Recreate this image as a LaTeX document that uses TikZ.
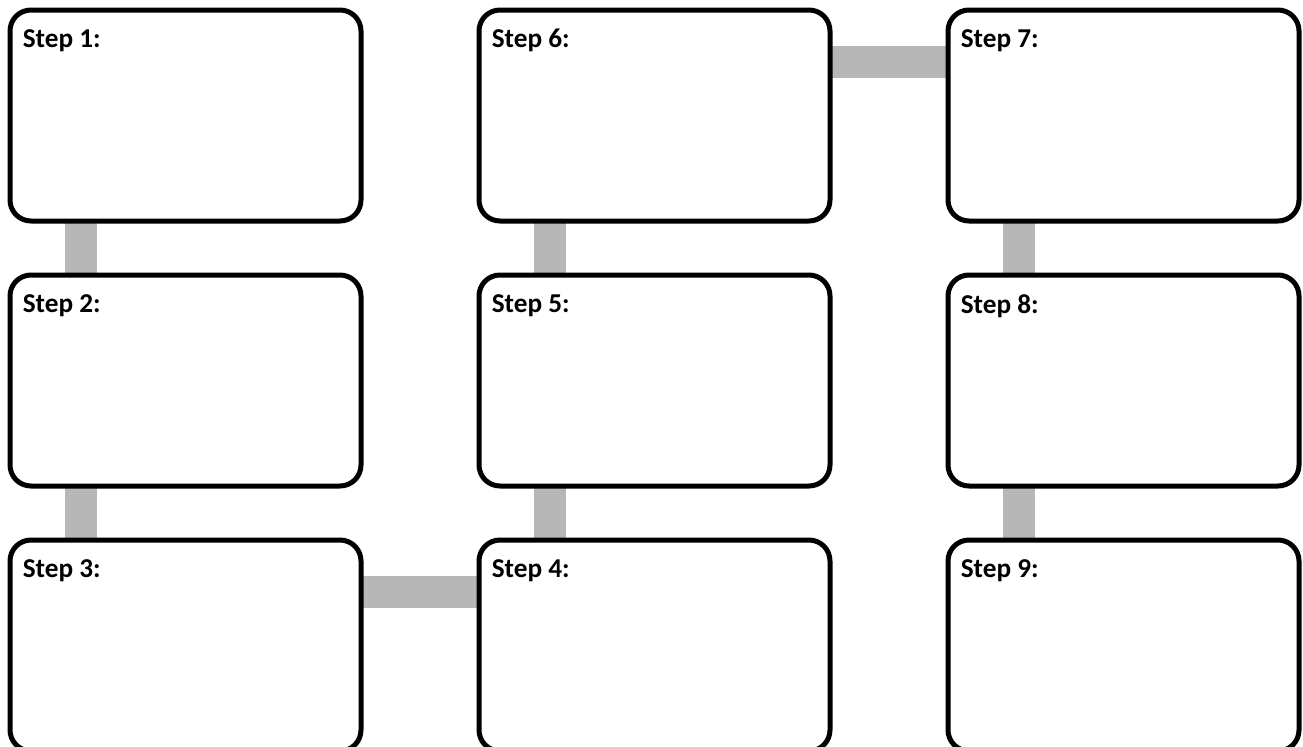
\documentclass[tikz,border=0pt]{standalone}
\usepackage{fontspec}
\setmainfont{Carlito}
\usetikzlibrary{positioning,backgrounds}
\definecolor{bargray}{HTML}{B7B7B7}

\begin{document}
\begin{tikzpicture}[
  box/.style={draw, line width=0.1cm, rounded corners=0.42cm, fill=white, outer sep=0pt,
    minimum width=7.02cm, minimum height=4.22cm},
  lbl/.style={anchor=north west, inner sep=0pt, font=\fontsize{15.5pt}{18pt}\selectfont\bfseries},
  bar/.style={draw=bargray, line width=0.64cm}
]
\useasboundingbox (0,0) rectangle (26.06,-14.92);
% boxes, in snake order
\node[box] (s1) at (3.71,-2.31) {};
\node[box, below=1.08cm of s1] (s2) {};
\node[box, below=1.08cm of s2] (s3) {};
\node[box, right=2.36cm of s3] (s4) {};
\node[box, above=1.08cm of s4] (s5) {};
\node[box, above=1.08cm of s5] (s6) {};
\node[box, right=2.36cm of s6] (s7) {};
\node[box, below=1.08cm of s7] (s8) {};
\node[box, below=1.08cm of s8] (s9) {};
% gray links behind the boxes
\begin{scope}[on background layer]
\draw[bar] ([xshift=1.42cm]s1.south west) -- ([xshift=1.42cm]s2.north west);
\draw[bar] ([xshift=1.42cm]s2.south west) -- ([xshift=1.42cm]s3.north west);
\draw[bar] ([yshift=-1.03cm]s3.north east) -- ([yshift=-1.03cm]s4.north west);
\draw[bar] ([xshift=1.42cm]s4.north west) -- ([xshift=1.42cm]s5.south west);
\draw[bar] ([xshift=1.42cm]s5.north west) -- ([xshift=1.42cm]s6.south west);
\draw[bar] ([yshift=-1.03cm]s6.north east) -- ([yshift=-1.03cm]s7.north west);
\draw[bar] ([xshift=1.42cm]s7.south west) -- ([xshift=1.42cm]s8.north west);
\draw[bar] ([xshift=1.42cm]s8.south west) -- ([xshift=1.42cm]s9.north west);
\end{scope}
% labels
\node[lbl] (l1) at ([xshift=0.25cm,yshift=-0.38cm]s1.north west) {Step 1:};
\node[lbl] (l2) at ([xshift=0.25cm,yshift=-0.38cm]s2.north west) {Step 2:};
\node[lbl] (l3) at ([xshift=0.25cm,yshift=-0.38cm]s3.north west) {Step 3:};
\node[lbl] (l4) at ([xshift=0.25cm,yshift=-0.38cm]s4.north west) {Step 4:};
\node[lbl] (l5) at ([xshift=0.25cm,yshift=-0.38cm]s5.north west) {Step 5:};
\node[lbl] (l6) at ([xshift=0.25cm,yshift=-0.38cm]s6.north west) {Step 6:};
\node[lbl] (l7) at ([xshift=0.25cm,yshift=-0.38cm]s7.north west) {Step 7:};
\node[lbl] (l8) at ([xshift=0.25cm,yshift=-0.38cm]s8.north west) {Step 8:};
\node[lbl] (l9) at ([xshift=0.25cm,yshift=-0.38cm]s9.north west) {Step 9:};
\end{tikzpicture}
\end{document}
